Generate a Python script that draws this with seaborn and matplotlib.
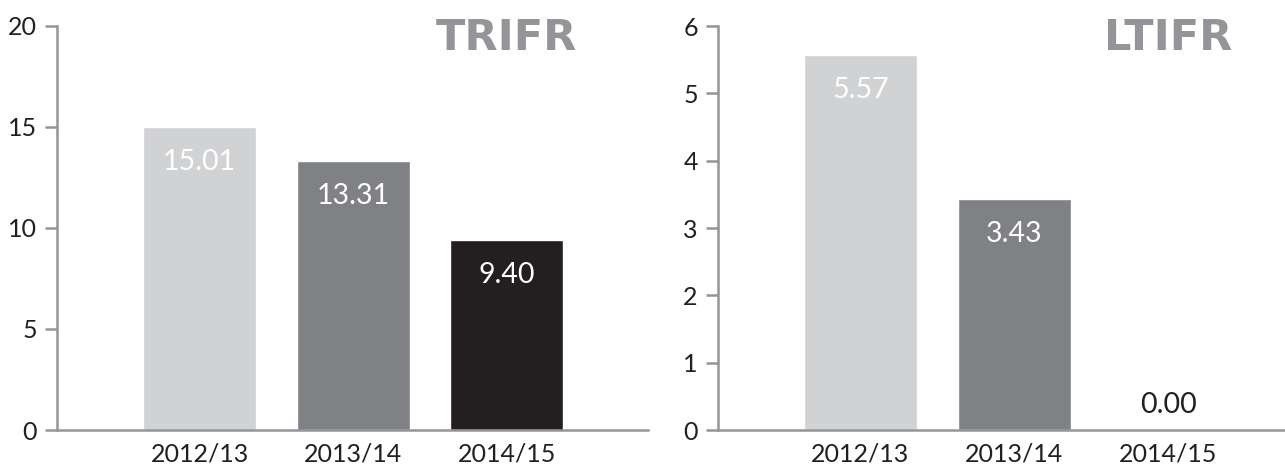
import matplotlib
matplotlib.use("Agg")
import matplotlib.pyplot as plt
import matplotlib.transforms as mtransforms
import seaborn as sns
import pandas as pd

periods = ["2012/13", "2013/14", "2014/15"]
trifr_values = [15.01, 13.31, 9.40]
ltifr_values = [5.57, 3.43, 0.00]
trifr_labels = ["15.01", "13.31", "9.40"]
ltifr_labels = ["5.57", "3.43", "0.00"]
bar_colors = ["#d1d2d4", "#808184", "#231f20"]
trifr_ticks = [0, 5, 10, 15, 20]
ltifr_ticks = [0, 1, 2, 3, 4, 5, 6]

sns.set_style("white")
plt.rcParams["font.family"] = ["Lato", "DejaVu Sans"]

SPINE = "#939598"
TEXT = "#231f20"

fig = plt.figure(figsize=(12.85, 4.66), dpi=100)
ax1 = fig.add_axes([57 / 1285, 36 / 466, (648 - 57) / 1285, 404 / 466])
ax2 = fig.add_axes([718 / 1285, 36 / 466, (1285 - 718) / 1285, 404 / 466])

panels = [
    (ax1, trifr_values, trifr_labels, trifr_ticks, "TRIFR", (-0.93, 2.92)),
    (ax2, ltifr_values, ltifr_labels, ltifr_ticks, "LTIFR", (-0.925, 2.76)),
]

for ax, vals, labs, ticks, title, xlim in panels:
    df = pd.DataFrame({"period": periods, "value": vals})
    sns.barplot(data=df, x="period", y="value", hue="period", palette=bar_colors,
                legend=False, width=0.736, ax=ax, saturation=1)
    ax.set_ylim(ticks[0], ticks[-1])
    ax.set_xlim(*xlim)
    ax.set_yticks(ticks)
    ax.set_yticklabels([str(t) for t in ticks])
    ax.set_xlabel("")
    ax.set_ylabel("")
    for s in ["top", "right"]:
        ax.spines[s].set_visible(False)
    for s in ["left", "bottom"]:
        ax.spines[s].set_color(SPINE)
        ax.spines[s].set_linewidth(1.8)
    ax.tick_params(axis="y", length=8.5, width=1.8, color=SPINE, pad=6,
                   labelsize=18, labelcolor=TEXT, left=True)
    ax.tick_params(axis="x", length=0, pad=9, labelsize=18, labelcolor=TEXT)
    for i, (v, lab) in enumerate(zip(vals, labs)):
        if v > 0:
            ax.annotate(lab, xy=(i, v), xytext=(0, -25), textcoords="offset points",
                        ha="center", va="center", fontsize=20.5, color="white")
        else:
            ax.annotate(lab, xy=(i, v), xytext=(0, 18), textcoords="offset points",
                        ha="center", va="center", fontsize=20.5, color=TEXT)
    trans = mtransforms.blended_transform_factory(ax.transData, ax.transAxes)
    ax.text(2, 0.9406, title, transform=trans, ha="center", va="baseline",
            fontsize=31, fontweight="bold", color=SPINE, family=["DejaVu Sans"])

fig.savefig("out.png", dpi=100)
